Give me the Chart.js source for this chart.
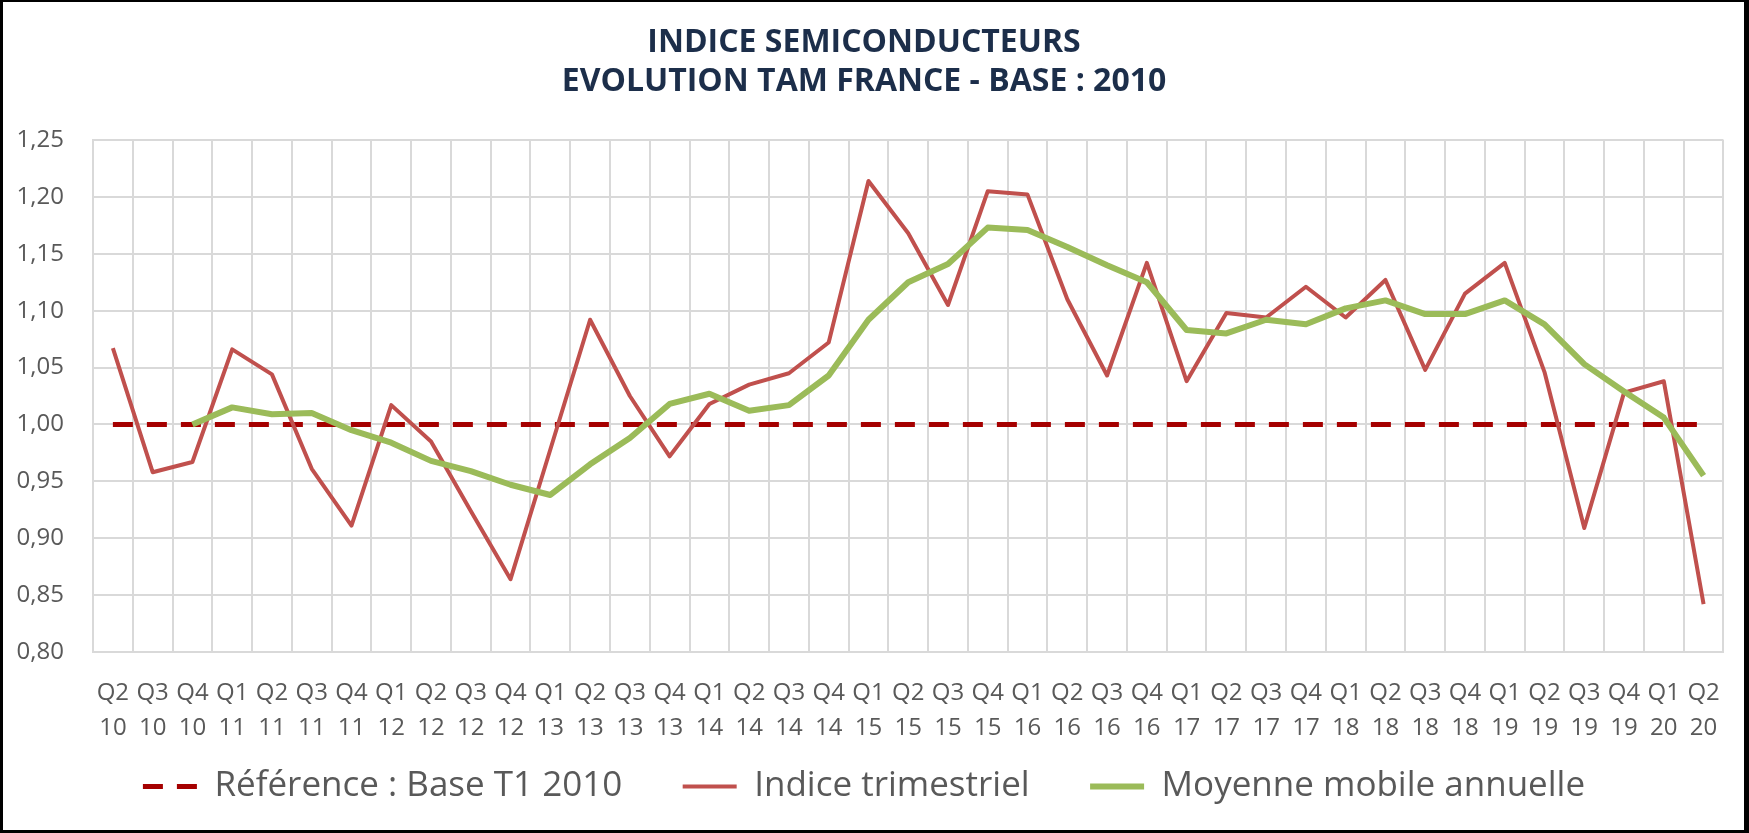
<!DOCTYPE html>
<html lang="fr">
<head>
<meta charset="utf-8">
<title>Indice semiconducteurs</title>
<script src="https://cdn.jsdelivr.net/npm/chart.js@4.4.1/dist/chart.umd.min.js"></script>
<style>
  html, body { margin: 0; padding: 0; background: #fff; }
  #frame {
    width: 1749px; height: 833px; box-sizing: border-box;
    border-style: solid; border-color: #000;
    border-width: 2px 5px 3px 3px;
    background: #fff;
  }
  #wrap { position: relative; width: 100%; height: 100%; }
</style>
</head>
<body>
<div id="frame"><div id="wrap"><canvas id="lineChart"></canvas></div></div>
<script>
// Quarter / year tick labels (Q2 2010 -> Q2 2020)
const quarters = ['Q2','Q3','Q4',
  'Q1','Q2','Q3','Q4', 'Q1','Q2','Q3','Q4', 'Q1','Q2','Q3','Q4',
  'Q1','Q2','Q3','Q4', 'Q1','Q2','Q3','Q4', 'Q1','Q2','Q3','Q4',
  'Q1','Q2','Q3','Q4', 'Q1','Q2','Q3','Q4', 'Q1','Q2','Q3','Q4',
  'Q1','Q2'];
const years = ['10','10','10',
  '11','11','11','11', '12','12','12','12', '13','13','13','13',
  '14','14','14','14', '15','15','15','15', '16','16','16','16',
  '17','17','17','17', '18','18','18','18', '19','19','19','19',
  '20','20'];

// Reference line : base T1 2010
const reference = [1.00, 1.00, 1.00, 1.00, 1.00, 1.00, 1.00, 1.00, 1.00, 1.00,
  1.00, 1.00, 1.00, 1.00, 1.00, 1.00, 1.00, 1.00, 1.00, 1.00,
  1.00, 1.00, 1.00, 1.00, 1.00, 1.00, 1.00, 1.00, 1.00, 1.00,
  1.00, 1.00, 1.00, 1.00, 1.00, 1.00, 1.00, 1.00, 1.00, 1.00, 1.00];

// Indice trimestriel
const indiceTrimestriel = [1.067, 0.958, 0.967, 1.066, 1.044, 0.961, 0.911, 1.017, 0.985, 0.924,
  0.864, 0.978, 1.092, 1.025, 0.972, 1.018, 1.035, 1.045, 1.072, 1.214,
  1.168, 1.105, 1.205, 1.202, 1.110, 1.043, 1.142, 1.038, 1.098, 1.094,
  1.121, 1.094, 1.127, 1.048, 1.115, 1.142, 1.046, 0.909, 1.028, 1.038, 0.842];

// Moyenne mobile annuelle
const moyenneMobile = [null, null, 1.000, 1.015, 1.009, 1.010, 0.995, 0.984, 0.968, 0.959,
  0.947, 0.938, 0.965, 0.988, 1.018, 1.027, 1.012, 1.017, 1.043, 1.092,
  1.125, 1.141, 1.173, 1.171, 1.156, 1.140, 1.125, 1.083, 1.080, 1.092,
  1.088, 1.102, 1.109, 1.097, 1.097, 1.109, 1.088, 1.053, 1.029, 1.006, 0.955];

const labels = quarters.map((q, i) => [q, years[i]]);
const textGrey = '#595959';
const gridGrey = '#d9d9d9';
// extra room after a legend entry, so the gap to the next one is wider than the row padding
const legendGap = '\u00a0\u00a0\u00a0\u00a0\u00a0';

new Chart(document.getElementById('lineChart').getContext('2d'), {
    type: 'line',
    data: {
        labels: labels,
        datasets: [{
            label: 'Référence : Base T1 2010',
            data: reference,
            borderColor: '#a50000',
            backgroundColor: '#a50000',
            borderWidth: 5,
            borderDash: [20, 14],
            pointRadius: 0,
            tension: 0,
            order: 3
        }, {
            label: 'Indice trimestriel',
            data: indiceTrimestriel,
            borderColor: '#c0504d',
            backgroundColor: '#c0504d',
            borderWidth: 4,
            borderJoinStyle: 'round',
            pointRadius: 0,
            tension: 0,
            order: 2
        }, {
            label: 'Moyenne mobile annuelle',
            data: moyenneMobile,
            borderColor: '#9bbb59',
            backgroundColor: '#9bbb59',
            borderWidth: 6,
            borderJoinStyle: 'round',
            pointRadius: 0,
            tension: 0,
            order: 1
        }]
    },
    options: {
        responsive: true,
        maintainAspectRatio: false,
        animation: false,
        layout: { padding: { left: 0, right: 19, top: 0, bottom: 16 } },
        plugins: {
            tooltip: { enabled: false },
            title: {
                display: true,
                text: ['INDICE SEMICONDUCTEURS', 'EVOLUTION TAM FRANCE - BASE : 2010'],
                color: '#1c2e4a',
                font: { family: "'Open Sans', sans-serif", size: 32, weight: 'bold', lineHeight: 39 / 32 },
                padding: { top: 21.5, bottom: 38.5 }
            },
            legend: {
                position: 'bottom',
                labels: {
                    color: textGrey,
                    font: { family: "'Open Sans', sans-serif", size: 35 },
                    usePointStyle: true,
                    pointStyle: 'line',
                    pointStyleWidth: 54,
                    padding: 15,
                    generateLabels: function(chart) {
                        const sets = chart.data.datasets;
                        return sets.map((ds, i) => ({
                            text: i < sets.length - 1 ? ds.label + legendGap : ds.label,
                            fillStyle: ds.borderColor,
                            strokeStyle: ds.borderColor,
                            lineWidth: ds.borderWidth,
                            lineDash: ds.borderDash || [],
                            lineCap: 'butt',
                            pointStyle: 'line',
                            fontColor: textGrey,
                            hidden: false,
                            datasetIndex: i
                        }));
                    }
                }
            }
        },
        scales: {
            x: {
                offset: true,
                grid: { color: gridGrey, lineWidth: 2, offset: true, drawTicks: false },
                border: { color: gridGrey, width: 2 },
                ticks: {
                    color: textGrey,
                    font: { family: "'Open Sans', sans-serif", size: 24, lineHeight: 35 / 24 },
                    maxRotation: 0,
                    minRotation: 0,
                    autoSkip: false,
                    padding: 24
                },
                afterFit: function(scale) { scale.height = 102; }
            },
            y: {
                min: 0.80,
                max: 1.25,
                grid: { color: gridGrey, lineWidth: 2, drawTicks: false },
                border: { color: gridGrey, width: 2 },
                ticks: {
                    stepSize: 0.05,
                    color: textGrey,
                    font: { family: "'Open Sans', sans-serif", size: 24 },
                    padding: 29,
                    callback: function(value) {
                        return value.toFixed(2).replace('.', ',');
                    }
                },
                afterFit: function(scale) { scale.width = 90; }
            }
        }
    }
});
</script>
</body>
</html>
